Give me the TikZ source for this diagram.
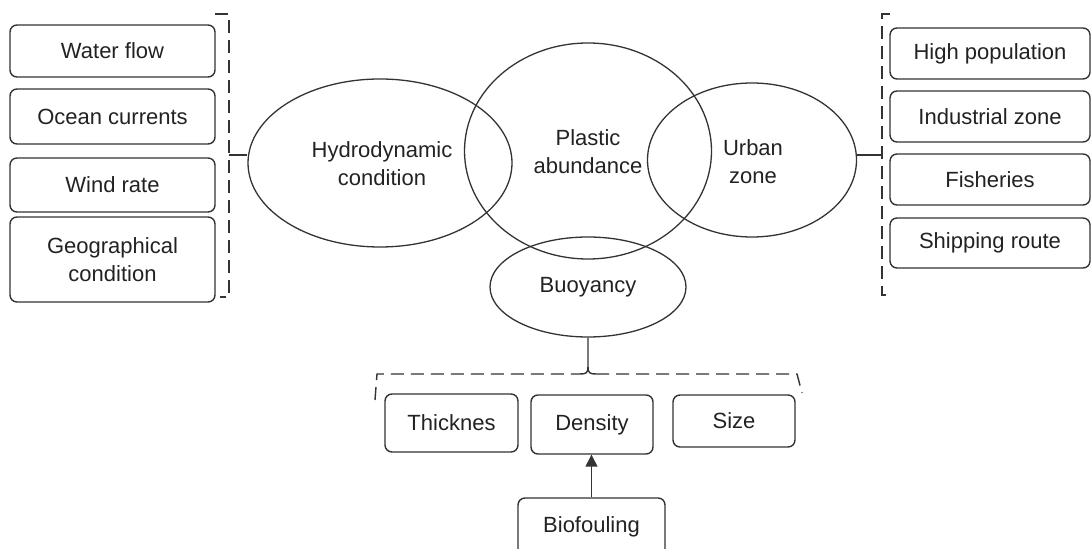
\documentclass[tikz,border=0pt]{standalone}
\usepackage{fontspec}
\setmainfont{Liberation Sans}
\usetikzlibrary{shapes.geometric,arrows.meta}
\definecolor{ln}{HTML}{333333}
\definecolor{tx}{HTML}{222222}
\begin{document}
\begin{tikzpicture}[x=0.5pt,y=-0.5pt,
  every node/.style={font=\fontsize{11}{14}\selectfont, text=tx, align=center},
  box/.style={draw=ln, line width=0.7pt, rounded corners=3.5pt, inner sep=0pt},
  ell/.style={draw=ln, line width=0.65pt, ellipse, inner sep=0pt},
  brk/.style={draw=ln, line width=0.7pt, dash pattern=on 6.5pt off 3.5pt},
  con/.style={draw=ln, line width=0.7pt}]
\useasboundingbox (0,0) rectangle (1091,549);
% left boxes
\node[box, minimum width=102.5pt, minimum height=26pt] (wf) at (112.5,51) {Water flow};
\node[box, minimum width=102.5pt, minimum height=27.5pt] (oc) at (112.5,116.5) {Ocean currents};
\node[box, minimum width=102.5pt, minimum height=27pt] (wr) at (112.5,185) {Wind rate};
\node[box, minimum width=102.5pt, minimum height=42.5pt] (gc) at (112.5,259.5) {Geographical\\condition};
% right boxes
\node[box, minimum width=100pt, minimum height=25.5pt] (hp) at (990,53.5) {High population};
\node[box, minimum width=100pt, minimum height=25.5pt] (iz) at (990,116.5) {Industrial zone};
\node[box, minimum width=100pt, minimum height=25.5pt] (fi) at (990,179.5) {Fisheries};
\node[box, minimum width=100pt, minimum height=25pt] (sr) at (990,243) {Shipping route};
% ellipses
\node[ell, minimum width=132pt, minimum height=84pt] (hy) at (380,163) {};
\node (hyt) at (382,164) {Hydrodynamic\\condition};
\node[ell, minimum width=123.5pt, minimum height=108pt] (pa) at (588,151) {};
\node (pat) at (588,151.5) {Plastic\\abundance};
\node[ell, minimum width=104.5pt, minimum height=77pt] (uz) at (752,160) {};
\node (uzt) at (753,161.5) {Urban\\zone};
\node[ell, minimum width=98pt, minimum height=50pt] (bu) at (588,287) {Buoyancy};
% bottom boxes
\node[box, minimum width=66.5pt, minimum height=29pt] (th) at (451.5,423) {Thicknes};
\node[box, minimum width=61pt, minimum height=29.5pt] (de) at (592,424.5) {Density};
\node[box, minimum width=61pt, minimum height=26pt] (si) at (734,421) {Size};
\node[box, minimum width=73.5pt, minimum height=29pt] (bf) at (591.5,527) {Biofouling};
% left bracket
\coordinate (lb) at (229,155);
\draw[brk] (215,14) -- (229,14) -- (229,297) -- (220,297);
\draw[con] (lb) -- (hy.west |- lb);
% right bracket
\coordinate (rb) at (882,155);
\draw[brk] (890,14) -- (882,14) -- (882,295) -- (893,295);
\draw[con] (uz.east |- rb) -- (rb);
% bottom bracket
\coordinate (bb) at (588,374);
\draw[brk] (375,400) -- (377,374) -- (580,374);
\draw[brk] (596,374) -- (797,374) -- (802,393);
\draw[con] (bu.south) -- (588,367) .. controls (588,373) and (586,374) .. (580,374);
\draw[con] (588,367) .. controls (588,373) and (590,374) .. (596,374);
% arrow
\draw[con, -{Triangle[length=6pt,width=6pt]}] (bf.north) -- (bf.north |- de.south);
\end{tikzpicture}
\end{document}
